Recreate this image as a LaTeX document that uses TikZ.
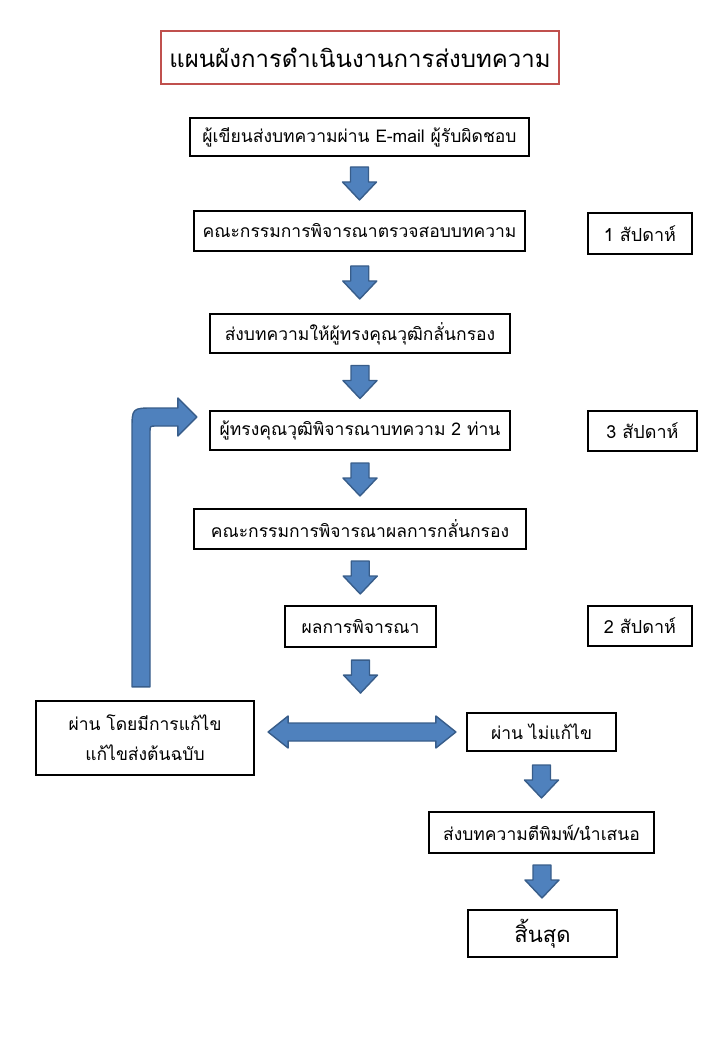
\documentclass[tikz,border=0pt]{standalone}
\usepackage{fontspec}
\setmainfont[Script=Thai]{Loma}
\usetikzlibrary{positioning,calc}
\definecolor{arrowfill}{HTML}{4F81BD}
\definecolor{arrowline}{HTML}{385D8A}
\definecolor{titlered}{HTML}{C0504D}

% block arrow pointing down, centred between two points
\newcommand{\blockdown}[2]{%
  \draw[blockarrow] let \p1=($(#1)!0.5!(#2)$) in
    (\x1-9pt,\y1+16.5pt) -- (\x1+9pt,\y1+16.5pt) -- (\x1+9pt,\y1+1.5pt)
    -- (\x1+17pt,\y1+1.5pt) -- (\x1,\y1-16.5pt) -- (\x1-17pt,\y1+1.5pt)
    -- (\x1-9pt,\y1+1.5pt) -- cycle;}

\begin{document}
\begin{tikzpicture}[x=1pt,y=-1pt,
  stepbox/.style={draw,line width=2.2pt,inner sep=0pt,font=\fontsize{17.5}{21}\selectfont},
  blockarrow/.style={fill=arrowfill,draw=arrowline,line width=1.4pt,line join=round}]
\useasboundingbox (0,0) rectangle (720,1040);

\node (title) [draw=titlered,line width=2.4pt,minimum width=398pt,minimum height=53pt,
  font=\fontsize{24}{29}\selectfont] at (360,57.5) {แผนผังการดำเนินงานการส่งบทความ};

\node (b1) [stepbox,minimum width=339pt,minimum height=38pt] at (359.5,137) {ผู้เขียนส่งบทความผ่าน E-mail ผู้รับผิดชอบ};
\node (b2) [stepbox,minimum width=331pt,minimum height=40pt] at (359.5,231) {คณะกรรมการพิจารณาตรวจสอบบทความ};
\node (wk1) [stepbox,minimum width=104pt,minimum height=41pt,font=\fontsize{18}{22}\selectfont] at (640,233.5) {1 สัปดาห์};
\node (b3) [stepbox,minimum width=300pt,minimum height=39pt] at (360,333.5) {ส่งบทความให้ผู้ทรงคุณวุฒิกลั่นกรอง};
\node (b4) [stepbox,minimum width=300pt,minimum height=39pt] at (360,430.5) {ผู้ทรงคุณวุฒิพิจารณาบทความ 2 ท่าน};
\node (wk3) [stepbox,minimum width=109pt,minimum height=40pt,font=\fontsize{18}{22}\selectfont] at (642.5,431) {3 สัปดาห์};
\node (b5) [stepbox,minimum width=332pt,minimum height=40pt] at (360,529) {คณะกรรมการพิจารณาผลการกลั่นกรอง};
\node (b6) [stepbox,minimum width=151pt,minimum height=41pt] at (360.5,626.5) {ผลการพิจารณา};
\node (wk2) [stepbox,minimum width=104pt,minimum height=40pt,font=\fontsize{18}{22}\selectfont] at (640,626) {2 สัปดาห์};
\coordinate (dtop) at (360.5,705);

\node (lb) [stepbox,minimum width=218pt,minimum height=74pt,align=center,
  font=\fontsize{17.5}{30}\selectfont] at (145,738) {ผ่าน โดยมีการแก้ไข\\แก้ไขส่งต้นฉบับ};
\node (pass) [stepbox,minimum width=149pt,minimum height=38pt] at (541.5,732) {ผ่าน ไม่แก้ไข};
\node (pub) [stepbox,minimum width=225pt,minimum height=41pt] at (541.5,832.5) {ส่งบทความตีพิมพ์/นำเสนอ};
\node (fin) [stepbox,minimum width=149pt,minimum height=47pt,
  font=\fontsize{22}{26}\selectfont] at (542.5,933.5) {สิ้นสุด};

\blockdown{b1.south}{b2.north}
\blockdown{b2.south}{b3.north}
\blockdown{b3.south}{b4.north}
\blockdown{b4.south}{b5.north}
\blockdown{b5.south}{b6.north}
\blockdown{b6.south}{dtop}
\blockdown{pass.south}{pub.north}
\blockdown{pub.south}{fin.north}

% two-way arrow between the two results
\draw[blockarrow] let \p1=(lb.east), \p2=(pass.west) in
  (\x1+13pt,\y2) -- (\x1+33pt,\y2+16pt) -- (\x1+33pt,\y2+9pt) -- (\x2-30pt,\y2+9pt)
  -- (\x2-30pt,\y2+16pt) -- (\x2-10pt,\y2) -- (\x2-30pt,\y2-16pt) -- (\x2-30pt,\y2-9pt)
  -- (\x1+33pt,\y2-9pt) -- (\x1+33pt,\y2-16pt) -- cycle;

% back to the reviewers
\coordinate (fbfoot) at ($(lb.north)+(-4,-13)$);
\coordinate (fbtip) at ($(b4.west)+(-12,-13.5)$);
\draw[blockarrow] let \p1=(fbfoot), \p2=(fbtip) in
  (\x1-9pt,\y1) -- (\x1-9pt,\y2-13pt) .. controls (\x1-9pt,\y2+9pt) .. (\x1+13pt,\y2+9pt)
  -- (\x2-19pt,\y2+9pt) -- (\x2-19pt,\y2+19pt) -- (\x2,\y2) -- (\x2-19pt,\y2-19pt)
  -- (\x2-19pt,\y2-9pt) -- (\x1+15pt,\y2-9pt) .. controls (\x1+9pt,\y2-9pt) .. (\x1+9pt,\y2-15pt)
  -- (\x1+9pt,\y1) -- cycle;
\end{tikzpicture}
\end{document}
